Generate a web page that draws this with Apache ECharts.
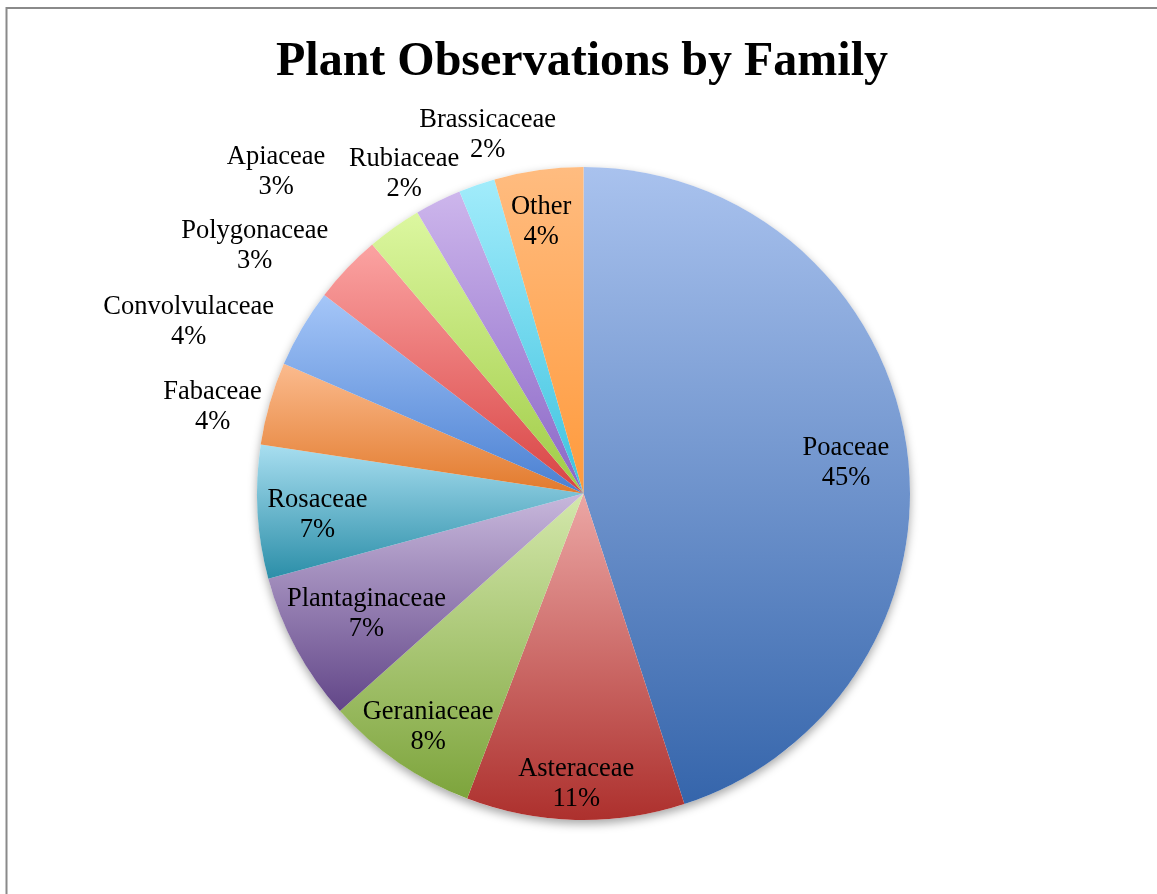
<!DOCTYPE html>
<html><head><meta charset="utf-8">
<script src="https://cdn.jsdelivr.net/npm/echarts@6/dist/echarts.min.js"></script>
<style>html,body{margin:0;padding:0;background:#fff}#c{width:1157px;height:894px}</style>
</head><body><div id="c"></div>
<script>
// ---- data ----
const families = ['Poaceae','Asteraceae','Geraniaceae','Plantaginaceae','Rosaceae','Fabaceae',
  'Convolvulaceae','Polygonaceae','Apiaceae','Rubiaceae','Brassicaceae','Other'];
const counts = [450, 108, 76, 74, 66, 41, 39, 34, 27, 23, 18, 44];

// ---- style ----
const colorTop    = ['#A9C2EE','#ECA7A5','#D4E8AC','#C8B8DC','#A8DEF0','#FBBB8E','#A5C6F8','#FBA3A2','#DCF7A0','#CDB6EC','#A2ECFB','#FFBC80'];
const colorBottom = ['#3565AB','#AD302D','#7DA43C','#624688','#2B8EA8','#E27A2C','#4A80D2','#D84343','#9FCB45','#8A66C6','#3DC2DF','#FF9A3C'];
const labelRadius     = [0.81, 0.884, 0.854, 0.756, 0.817, 1.168, 1.321, 1.265, 1.369, 1.128, 1.143, 0.848];
const labelAngleShift = [1.9, 0, -0.7, 0, -0.8, -2.6, -6.7, -6.3, -8.0, -2.7, 4.2, -0.9];

const CX = 583.5, CY = 493.5, R = 326.5;
const total = counts.reduce((a, b) => a + b, 0);
const pct = counts.map(v => Math.round(v * 100 / total));
let acc = 0;
const midAngles = counts.map(v => { const a0 = acc; acc += v; return (a0 + v / 2) / total * 360; });

const chart = echarts.init(document.getElementById('c'), null, {renderer: 'canvas'});
chart.setOption({
  animation: false,
  backgroundColor: '#fff',
  title: {
    text: 'Plant Observations by Family',
    left: 577, top: 34, textAlign: 'center',
    textStyle: {fontFamily: 'Liberation Serif', fontWeight: 'bold', fontSize: 48, color: '#000'}
  },
  graphic: [{
    type: 'rect', silent: true, z: -10,
    shape: {x: 6.5, y: 8, width: 1300, height: 1000},
    style: {fill: 'none', stroke: '#8a8a8a', lineWidth: 2}
  }],
  series: [
    {
      type: 'pie', silent: true, z: 1,
      center: [CX, CY], radius: R, startAngle: 90,
      data: [{name: 'all', value: total}],
      label: {show: false}, labelLine: {show: false},
      itemStyle: {color: '#ffffff', borderWidth: 0, shadowBlur: 10, shadowColor: 'rgba(0,0,0,0.35)', shadowOffsetY: 4},
      emphasis: {disabled: true}
    },
    {
      type: 'pie', silent: true, z: 2,
      center: [CX, CY], radius: R, startAngle: 90, clockwise: true,
      avoidLabelOverlap: false,
      data: families.map((n, i) => ({
        name: n, value: counts[i],
        itemStyle: {color: {type: 'linear', x: 0, y: 0, x2: 0, y2: 1,
          colorStops: [{offset: 0, color: colorTop[i]}, {offset: 1, color: colorBottom[i]}]}}
      })),
      itemStyle: {borderWidth: 0},
      label: {
        show: true, position: 'inside',
        formatter: p => p.name + '\n' + pct[p.dataIndex] + '%',
        fontFamily: 'Liberation Serif', fontSize: 26.5, lineHeight: 30, color: '#000'
      },
      labelLine: {show: false},
      labelLayout: p => {
        const i = p.dataIndex;
        const a = (midAngles[i] + labelAngleShift[i]) * Math.PI / 180;
        const r = labelRadius[i] * R;
        return {x: CX + r * Math.sin(a), y: CY - r * Math.cos(a) + 2.5, align: 'center', verticalAlign: 'middle'};
      },
      emphasis: {disabled: true}
    }
  ]
});
</script>
</body></html>
